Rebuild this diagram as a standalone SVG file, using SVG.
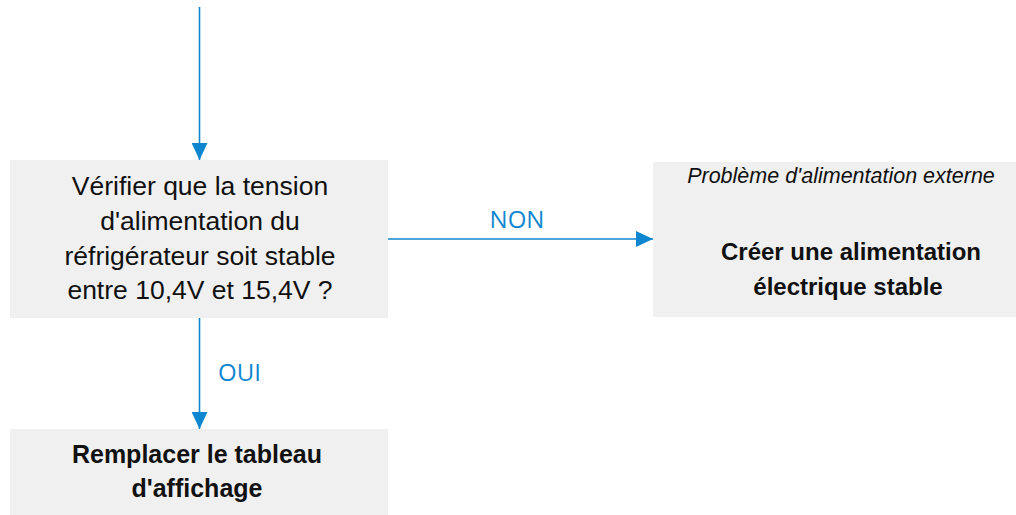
<svg xmlns="http://www.w3.org/2000/svg" width="1016" height="515" viewBox="0 0 1016 515">
<style>
.box{fill:#f0f0f0}
.t{font-family:"Liberation Sans",Arial,sans-serif;fill:#111;text-anchor:middle}
.reg{font-size:26.5px}
.b{font-weight:bold}
.it{font-style:italic;font-size:21.5px}
.lbl{font-family:"Open Sans","Liberation Sans",sans-serif;font-size:24px;fill:#0f87d0}
.c{stroke:#0f87d0;stroke-width:1.6;fill:none}
</style>
<defs>
<marker id="ah" markerUnits="userSpaceOnUse" markerWidth="18" markerHeight="16" refX="17" refY="8" orient="auto">
<path d="M0,0 L17,8 L0,16 Z" fill="#0f87d0"/>
</marker>
</defs>
<g id="connectors">
<line class="c" x1="199.5" y1="7" x2="199.5" y2="160" marker-end="url(#ah)"/>
<line class="c" x1="388" y1="239" x2="653" y2="239" marker-end="url(#ah)"/>
<line class="c" x1="199.5" y1="318" x2="199.5" y2="429" marker-end="url(#ah)"/>
<text class="lbl" x="517" y="228" text-anchor="middle">NON</text>
<text class="lbl" x="218" y="381">OUI</text>
</g>
<g id="check">
<rect class="box" x="10" y="160" width="378" height="158"/>
<text class="t reg" x="200" y="195">Vérifier que la tension</text>
<text class="t reg" x="200" y="230">d'alimentation du</text>
<text class="t reg" x="200" y="265">réfrigérateur soit stable</text>
<text class="t reg" x="200" y="299">entre 10,4V et 15,4V ?</text>
</g>
<g id="external">
<rect class="box" x="653" y="162" width="363" height="155"/>
<text class="t it" x="841" y="183">Problème d'alimentation externe</text>
<text class="t b" x="851" y="260" font-size="24">Créer une alimentation</text>
<text class="t b" x="848" y="295" font-size="24">électrique stable</text>
</g>
<g id="replace">
<rect class="box" x="10" y="429" width="378" height="86"/>
<text class="t b" x="197" y="463" font-size="25">Remplacer le tableau</text>
<text class="t b" x="197" y="497" font-size="25">d'affichage</text>
</g>
</svg>
